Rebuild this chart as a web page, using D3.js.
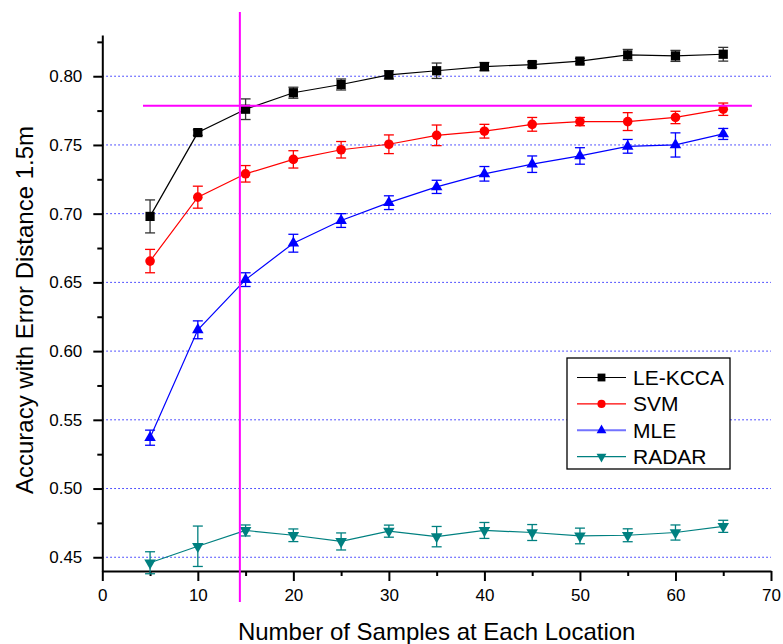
<!DOCTYPE html>
<html>
<head>
<meta charset="utf-8">
<script src="https://cdn.jsdelivr.net/npm/d3@7"></script>
<style>
  body { margin: 0; background: #fff; }
  text { font-family: "Liberation Sans", Arial, sans-serif; }
</style>
</head>
<body>
<div class="chart"></div>
<script>
// samples per location
var samples = [5, 10, 15, 20, 25, 30, 35, 40, 45, 50, 55, 60, 65];

var leKcca    = [0.698, 0.759, 0.776, 0.788, 0.794, 0.801, 0.804, 0.807, 0.8085, 0.811, 0.8155, 0.8148, 0.816];
var leKccaErr = [0.012, 0.002, 0.0075, 0.004, 0.004, 0.003, 0.0056, 0.003, 0.002, 0.002, 0.004, 0.004, 0.005];

var svm    = [0.6655, 0.712, 0.729, 0.7395, 0.7465, 0.7505, 0.757, 0.760, 0.765, 0.767, 0.767, 0.770, 0.776];
var svmErr = [0.0085, 0.008, 0.006, 0.0063, 0.006, 0.0068, 0.0075, 0.005, 0.005, 0.003, 0.0065, 0.0045, 0.0045];

var mle    = [0.537, 0.6155, 0.652, 0.6785, 0.695, 0.708, 0.7195, 0.729, 0.736, 0.742, 0.749, 0.750, 0.758];
var mleErr = [0.0055, 0.0065, 0.005, 0.0065, 0.005, 0.005, 0.0048, 0.0053, 0.006, 0.006, 0.005, 0.0088, 0.004];

var radar    = [0.446, 0.458, 0.4695, 0.466, 0.4615, 0.469, 0.465, 0.4695, 0.468, 0.4655, 0.466, 0.468, 0.4725];
var radarErr = [0.008, 0.0147, 0.004, 0.0046, 0.0062, 0.0044, 0.0074, 0.0058, 0.0058, 0.0057, 0.0047, 0.0055, 0.0044];

var seriesNames = ["LE-KCCA", "SVM", "MLE", "RADAR"];
var yTicks = [0.45, 0.50, 0.55, 0.60, 0.65, 0.70, 0.75, 0.80];
var yMinor = [0.475, 0.525, 0.575, 0.625, 0.675, 0.725, 0.775, 0.825];
var xTicks = [0, 10, 20, 30, 40, 50, 60, 70];
var xMinor = [5, 15, 25, 35, 45, 55, 65];

// magenta reference lines (data units)
var refX = 14.4, refXSpan = [0.4175, 0.8467];
var refY = 0.7785, refYSpan = [4.26, 68.0];

var width = 783, height = 644;
var svg = d3.select(".chart").append("svg")
    .attr("width", width).attr("height", height);

var x = d3.scaleLinear().domain([0, 70]).range([102.3, 771]);
var y = d3.scaleLinear().domain([0.44, 0.83]).range([571, 35]);

var series = [
  { name: seriesNames[0], vals: leKcca, err: leKccaErr, color: "#000000", errColor: "#333333", shape: "square" },
  { name: seriesNames[1], vals: svm,    err: svmErr,    color: "#ff0000", errColor: "#ff0000", shape: "circle" },
  { name: seriesNames[2], vals: mle,    err: mleErr,    color: "#0000ff", errColor: "#0000ff", shape: "up" },
  { name: seriesNames[3], vals: radar,  err: radarErr,  color: "#008080", errColor: "#008080", shape: "down" }
];

function marker(sel, shape, scale) {
  scale = scale || 1;
  if (shape === "circle") {
    sel.append("circle").attr("r", 4.8 * scale);
  } else if (shape === "square") {
    sel.append("path").attr("d", d3.symbol(d3.symbolSquare, 85 * scale * scale));
  } else {
    var p = sel.append("path").attr("d", d3.symbol(d3.symbolTriangle, 58 * scale * scale));
    if (shape === "down") p.attr("transform", "rotate(180)");
  }
}

// grid
svg.append("g").selectAll("line").data(yTicks).enter().append("line")
    .attr("x1", x(0)).attr("x2", x(70))
    .attr("y1", function(d) { return y(d); }).attr("y2", function(d) { return y(d); })
    .attr("stroke", "#2020ff").attr("stroke-width", 1)
    .attr("stroke-dasharray", "1.5,2.5");

// axes
svg.append("g").attr("transform", "translate(" + x(0) + ",0)")
    .call(d3.axisLeft(y).tickValues(yTicks).tickFormat(d3.format(".2f")).tickSize(9).tickPadding(11).tickSizeOuter(0));
svg.append("g").attr("transform", "translate(" + x(0) + ",0)")
    .call(d3.axisLeft(y).tickValues(yMinor.filter(function(v) { return v <= 0.83; })).tickFormat("").tickSize(5).tickSizeOuter(0))
    .select(".domain").remove();
svg.append("g").attr("transform", "translate(0," + y(0.44) + ")")
    .call(d3.axisBottom(x).tickValues(xTicks).tickSize(10).tickPadding(8).tickSizeOuter(0));
svg.append("g").attr("transform", "translate(0," + y(0.44) + ")")
    .call(d3.axisBottom(x).tickValues(xMinor).tickFormat("").tickSize(5).tickSizeOuter(0))
    .select(".domain").remove();

svg.selectAll(".domain, .tick line").attr("stroke", "#000").attr("stroke-width", 2);
svg.selectAll(".tick text").attr("font-size", 17).attr("fill", "#000")
    .style("font-family", "'Liberation Sans', Arial, sans-serif");

// axis titles
svg.append("text")
    .attr("x", (x(0) + x(70)) / 2).attr("y", 640)
    .attr("text-anchor", "middle").attr("font-size", 24)
    .text("Number of Samples at Each Location");
svg.append("text")
    .attr("transform", "translate(33,310) rotate(-90)")
    .attr("text-anchor", "middle").attr("font-size", 24)
    .text("Accuracy with Error Distance 1.5m");

// series
var line = d3.line()
    .x(function(d, i) { return x(samples[i]); })
    .y(function(d) { return y(d); });

series.forEach(function(s) {
  var g = svg.append("g");
  g.append("path").datum(s.vals).attr("d", line)
      .attr("fill", "none").attr("stroke", s.color).attr("stroke-width", 1.2);

  var eb = g.selectAll(".eb").data(s.vals).enter().append("g")
      .attr("stroke", s.errColor).attr("stroke-width", 1.3);
  eb.append("line")
      .attr("x1", function(d, i) { return x(samples[i]); })
      .attr("x2", function(d, i) { return x(samples[i]); })
      .attr("y1", function(d, i) { return y(d - s.err[i]); })
      .attr("y2", function(d, i) { return y(d + s.err[i]); });
  [-1, 1].forEach(function(sign) {
    eb.append("line")
        .attr("x1", function(d, i) { return x(samples[i]) - 5; })
        .attr("x2", function(d, i) { return x(samples[i]) + 5; })
        .attr("y1", function(d, i) { return y(d + sign * s.err[i]); })
        .attr("y2", function(d, i) { return y(d + sign * s.err[i]); });
  });

  g.selectAll(".pt").data(s.vals).enter().append("g")
      .attr("transform", function(d, i) { return "translate(" + x(samples[i]) + "," + y(d) + ")"; })
      .attr("fill", s.color)
      .each(function() { marker(d3.select(this), s.shape); });
});

// magenta reference lines
svg.append("line")
    .attr("x1", x(refX)).attr("x2", x(refX))
    .attr("y1", y(refXSpan[0])).attr("y2", y(refXSpan[1]))
    .attr("stroke", "#ff00ff").attr("stroke-width", 2);
svg.append("line")
    .attr("x1", x(refYSpan[0])).attr("x2", x(refYSpan[1]))
    .attr("y1", y(refY)).attr("y2", y(refY))
    .attr("stroke", "#ff00ff").attr("stroke-width", 2);

// legend
var legend = svg.append("g").attr("transform", "translate(567,358)");
legend.append("rect").attr("width", 163).attr("height", 111)
    .attr("fill", "#fff").attr("stroke", "#000").attr("stroke-width", 1.3);
series.forEach(function(s, i) {
  var row = legend.append("g").attr("transform", "translate(0," + (19.5 + i * 26.4) + ")");
  row.append("line").attr("x1", 10).attr("x2", 59)
      .attr("stroke", s.color).attr("stroke-width", i === 2 ? 2 : 1.2)
      .attr("stroke-opacity", i === 2 ? 0.55 : 1);
  row.append("g").attr("transform", "translate(34.5,0)").attr("fill", s.color)
      .each(function() { marker(d3.select(this), s.shape, 0.85); });
  row.append("text").attr("x", 66).attr("y", 7.5)
      .attr("font-size", 21).text(s.name);
});
</script>
</body>
</html>
